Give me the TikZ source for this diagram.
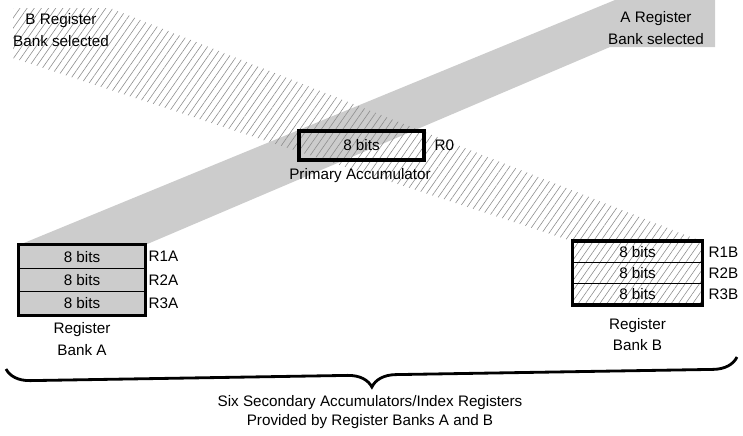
\documentclass[tikz,border=0pt]{standalone}
\usepackage{fontspec}
\setmainfont{Liberation Sans}
\usetikzlibrary{patterns.meta,decorations.pathreplacing}
\begin{document}
\begin{tikzpicture}[x=0.03cm, y=-0.03cm,
      every node/.style={align=center, font=\fontsize{13}{18.5}\selectfont},
      dense/.style={fill=black!20},
      sparse/.style={pattern={Lines[angle=55,distance=5pt,line width=.5pt]}, pattern color=black!45},
      regA/.style={draw, line width=1.2pt, dense, minimum width=3.78cm, minimum height=0.7cm, inner sep=0pt},
      regB/.style={draw, line width=1.2pt, sparse, minimum width=3.87cm, minimum height=0.63cm, inner sep=0pt},
      frame/.style={draw, line width=3pt},
      lbl/.style={anchor=west, inner sep=2pt},
      brace/.style={decorate, decoration={brace, mirror, amplitude=0.72cm}, line width=2.4pt}
    ]
      \useasboundingbox (0,0) rectangle (743,435);

      % Selection bands
      \fill[dense] (19,245) -- (615,0) -- (715,0) -- (715,47) -- (610,47) -- (145,245) -- cycle;
      \fill[sparse] (13,8) -- (110,8) -- (702,241.5) -- (573,241.5) -- (13,58) -- cycle;

      % Labels on the bands
      \node (bsel) at (61,30) {B Register\\Bank selected};
      \node (asel) at (656,28) {A Register\\Bank selected};

      % Primary accumulator in the middle
      \node[frame, minimum width=3.75cm, minimum height=0.87cm] (acc) at (361.5,145.5) {8 bits};
      \node[lbl] (r0) at (432,145.5) {R0};
      \node (accname) at (360,176) {Primary Accumulator};

      % Register bank A on the left
      \node[regA] (a1) at (82,256.7) {8 bits};
      \node[regA] (a2) at (82,280) {8 bits};
      \node[regA] (a3) at (82,303.3) {8 bits};
      \draw[frame] (a1.north west) rectangle (a3.south east);
      \node[lbl] (r1a) at (146,256.7) {R1A};
      \node[lbl] (r2a) at (146,280) {R2A};
      \node[lbl] (r3a) at (146,303.3) {R3A};
      \node (bankA) at (82,339) {Register\\Bank A};

      % Register bank B on the right
      \node[regB] (b1) at (637.5,252) {8 bits};
      \node[regB] (b2) at (637.5,273) {8 bits};
      \node[regB] (b3) at (637.5,294) {8 bits};
      \draw[frame] (b1.north west) rectangle (b3.south east);
      \node[lbl] (r1b) at (706,252) {R1B};
      \node[lbl] (r2b) at (706,273) {R2B};
      \node[lbl] (r3b) at (706,294) {R3B};
      \node (bankB) at (637.5,334.5) {Register\\Bank B};

      % Brace under both banks
      \coordinate (braceL) at (6,369);
      \coordinate (braceR) at (737,357);
      \draw[brace] (braceL) -- (braceR);
      \node[font=\fontsize{13}{16.2}\selectfont] (six) at (370,412.5) {Six Secondary Accumulators/Index Registers\\Provided by Register Banks A and B};
    \end{tikzpicture}
\end{document}
